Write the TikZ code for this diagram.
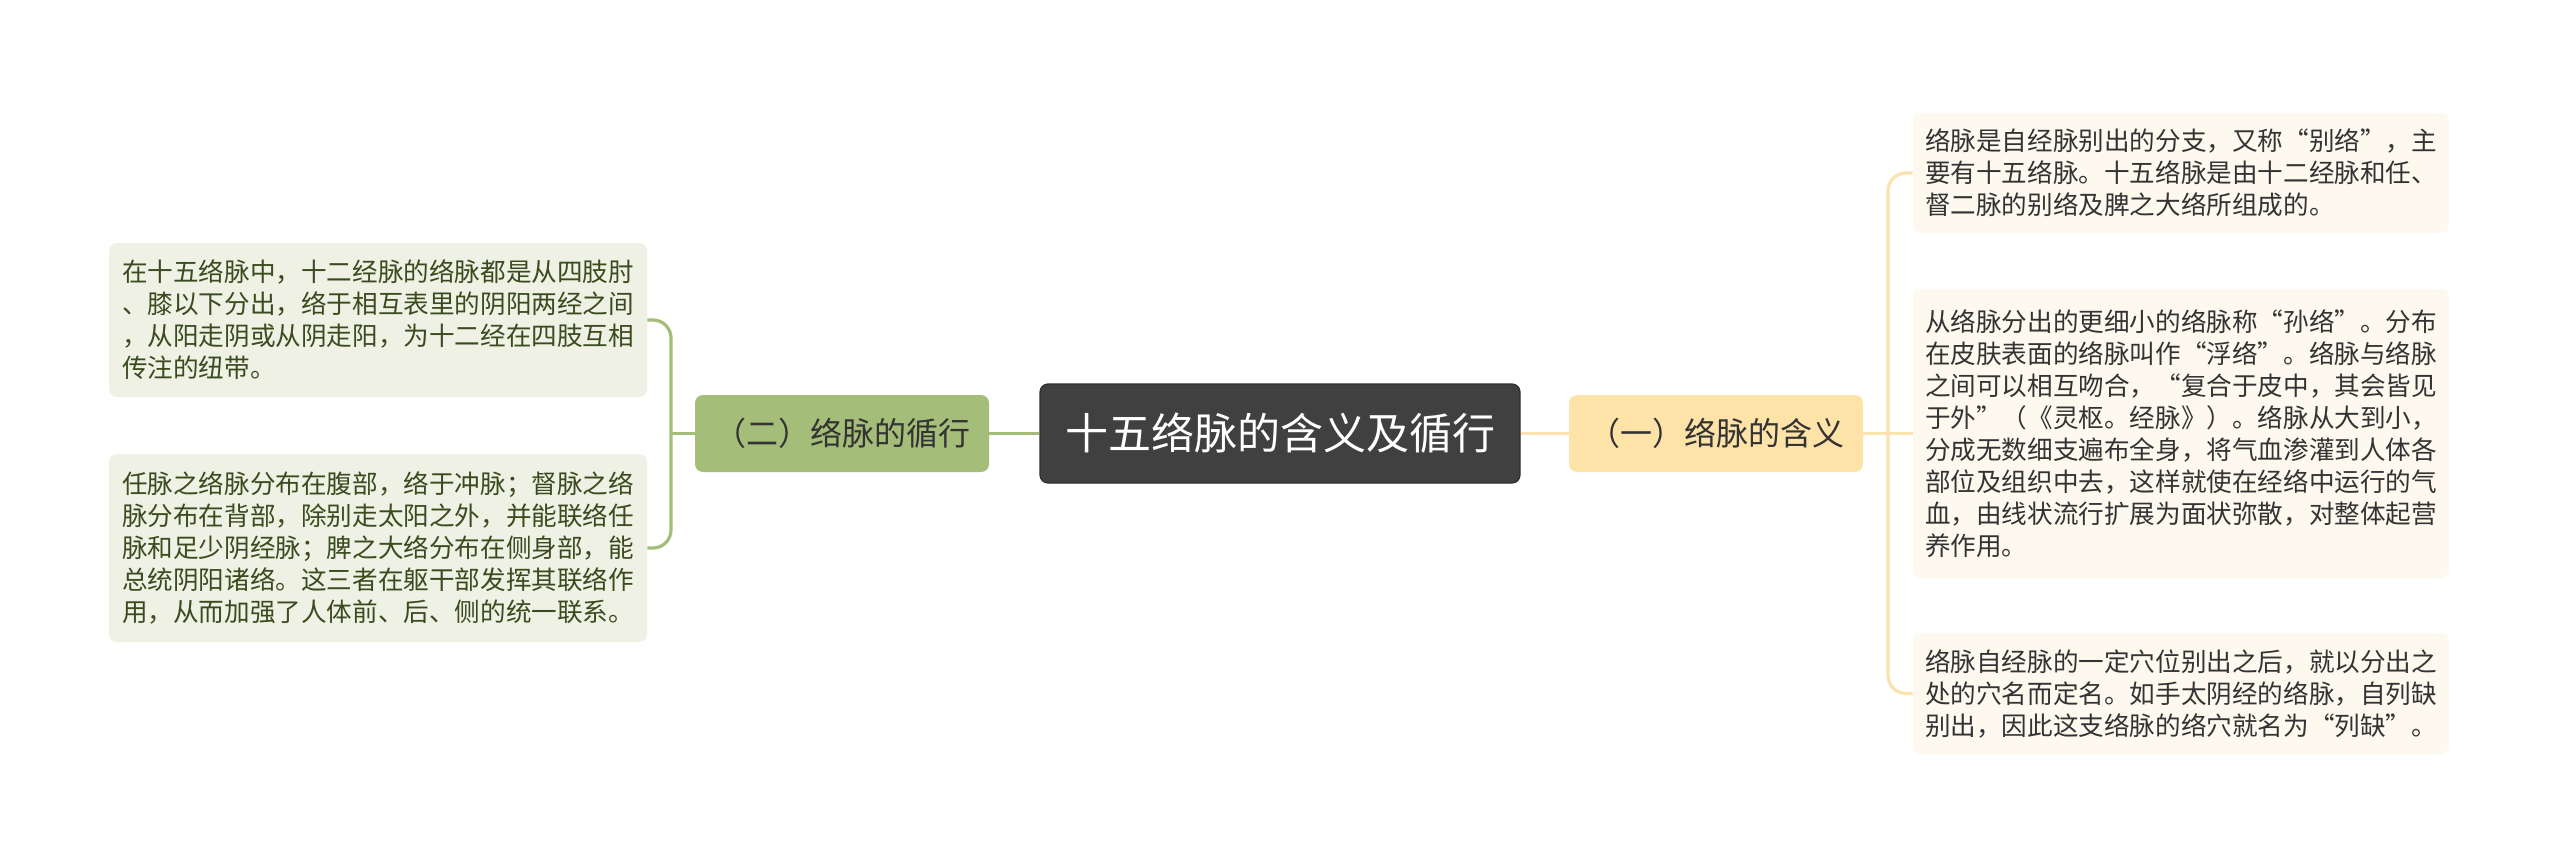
\documentclass[tikz,border=0pt]{standalone}
\usepackage{fontspec}
\setmainfont{Noto Sans CJK SC}
\definecolor{cdark}{HTML}{404040}
\definecolor{cdarkb}{HTML}{2E2E2E}
\definecolor{cgreen}{HTML}{A4BD79}
\definecolor{cgreenleaf}{HTML}{EEF1E3}
\definecolor{cgreentext}{HTML}{3B4A1F}
\definecolor{cyellow}{HTML}{FDE3A8}
\definecolor{cyellowleaf}{HTML}{FDF9EE}
\definecolor{cyellowline}{HTML}{FBE2AE}
\definecolor{ctext}{HTML}{333333}
\tikzset{
  rootbox/.style={draw=cdarkb, line width=0.6pt, fill=cdark, rounded corners=4pt, text=white,
    minimum width=240pt, minimum height=49.5pt, inner sep=0pt,
    font=\fontsize{21.5pt}{24pt}\selectfont},
  gbranch/.style={fill=cgreen, rounded corners=4pt, text=ctext,
    minimum width=147pt, minimum height=38.5pt, inner sep=0pt,
    font=\fontsize{16pt}{18pt}\selectfont},
  ybranch/.style={fill=cyellow, rounded corners=4pt, text=ctext,
    minimum width=147pt, minimum height=38.5pt, inner sep=0pt,
    font=\fontsize{16pt}{18pt}\selectfont},
  gleaf/.style={fill=cgreenleaf, rounded corners=4pt, text=cgreentext,
    text width=256pt, align=left, inner xsep=6.5pt, inner ysep=0pt,
    font=\fontsize{12.8pt}{16pt}\selectfont},
  yleaf/.style={fill=cyellowleaf, rounded corners=4pt, text=ctext,
    text width=256pt, align=left, inner xsep=6pt, inner ysep=0pt,
    font=\fontsize{12.8pt}{16pt}\selectfont},
  gconn/.style={draw=cgreen, line width=1.6pt, rounded corners=9pt},
  yconn/.style={draw=cyellowline, line width=1.6pt, rounded corners=9pt},
}
\begin{document}
\begin{tikzpicture}[x=0.5pt, y=-0.5pt]
\useasboundingbox (0,0) rectangle (2560,867);
\fill[white] (0,0) rectangle (2560,867);

\node[rootbox] (root) at (1280,433.5) {十五络脉的含义及循行};
\node[gbranch] (g) at (842,433.5) {（二）络脉的循行};
\node[ybranch] (y) at (1716,433.5) {（一）络脉的含义};

\node[gleaf, minimum height=77pt] (L1) at (378,320) {在十五络脉中，十二经脉的络脉都是从四肢肘\\、膝以下分出，络于相互表里的阴阳两经之间\\，从阳走阴或从阴走阳，为十二经在四肢互相\\传注的纽带。};
\node[gleaf, minimum height=94pt] (L2) at (378,548) {任脉之络脉分布在腹部，络于冲脉；督脉之络\\脉分布在背部，除别走太阳之外，并能联络任\\脉和足少阴经脉；脾之大络分布在侧身部，能\\总统阴阳诸络。这三者在躯干部发挥其联络作\\用，从而加强了人体前、后、侧的统一联系。};

\node[yleaf, minimum height=60pt] (R1) at (2181,173) {络脉是自经脉别出的分支，又称“别络”，主\\要有十五络脉。十五络脉是由十二经脉和任、\\督二脉的别络及脾之大络所组成的。};
\node[yleaf, minimum height=144.5pt] (R2) at (2181,433.5) {从络脉分出的更细小的络脉称“孙络”。分布\\在皮肤表面的络脉叫作“浮络”。络脉与络脉\\之间可以相互吻合，“复合于皮中，其会皆见\\于外”（《灵枢。经脉》）。络脉从大到小，\\分成无数细支遍布全身，将气血渗灌到人体各\\部位及组织中去，这样就使在经络中运行的气\\血，由线状流行扩展为面状弥散，对整体起营\\养作用。};
\node[yleaf, minimum height=60.5pt] (R3) at (2181,693.5) {络脉自经脉的一定穴位别出之后，就以分出之\\处的穴名而定名。如手太阴经的络脉，自列缺\\别出，因此这支络脉的络穴就名为“列缺”。};

\coordinate (ls) at (671,433.5);
\coordinate (rs) at (1888,433.5);

\draw[gconn] (root.west) -- (g.east);
\draw[gconn] (g.west) -- (ls);
\draw[gconn] (L1.east) -| (ls);
\draw[gconn] (L2.east) -| (ls);

\draw[yconn] (root.east) -- (y.west);
\draw[yconn] (y.east) -- (R2.west);
\draw[yconn] (R1.west) -| (rs);
\draw[yconn] (R3.west) -| (rs);
\end{tikzpicture}
\end{document}
